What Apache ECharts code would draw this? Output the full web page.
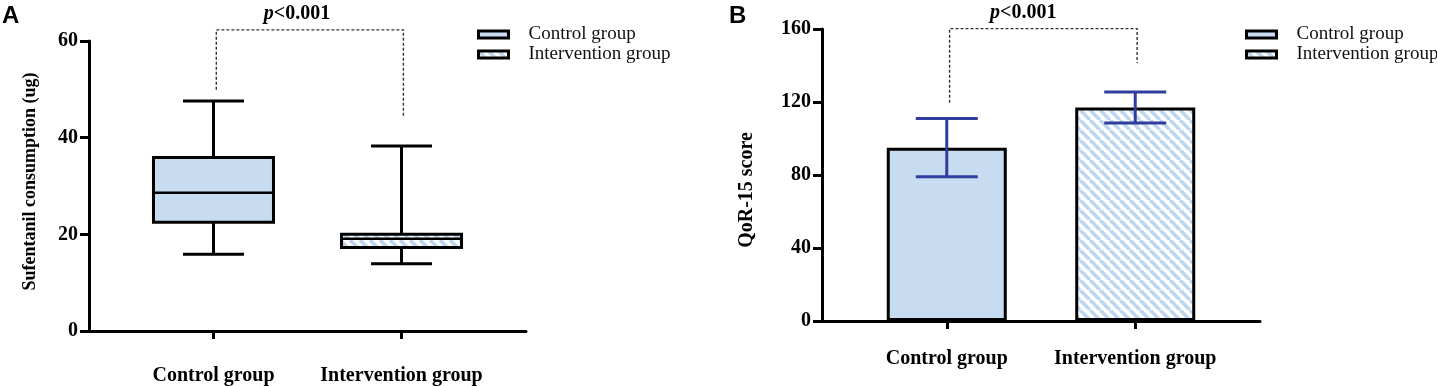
<!DOCTYPE html>
<html>
<head>
<meta charset="utf-8">
<script src="https://cdn.jsdelivr.net/npm/echarts@6/dist/echarts.min.js"></script>
<style>
  html, body { margin: 0; padding: 0; background: #fff; }
  #chart { width: 1437px; height: 386px; }
</style>
</head>
<body>
<div id="chart"></div>
<script>
// ---------- DATA ----------
const categories = ['Control group', 'Intervention group'];
// Panel A: boxplot [min, Q1, median, Q3, max]
const controlBox = [15.9, 22.5, 28.6, 35.9, 47.6];
const interventionBox = [13.9, 17.3, 19.1, 20.0, 38.3];
const sufTicks = [0, 20, 40, 60];
// Panel B: mean with error bar
const qorMeans = [95, 117];
const qorLow = [79, 108.5];
const qorHigh = [111, 125.5];
const qorTicks = [0, 40, 80, 120, 160];
// Significance brackets: [top value, left end value, right end value]
const bracketA = [62.3, 49.9, 44.3];
const bracketB = [160.2, 119.6, 141.4];
const pText = ['p', '<0.001'];

// ---------- STYLE ----------
const SERIF = '"Liberation Serif", "Times New Roman", serif';
const SANS = '"Liberation Sans", Arial, sans-serif';
const LIGHT = '#c8dcf1';

function makeHatch() {
  const s = 10;
  const c = document.createElement('canvas');
  c.width = s; c.height = s;
  const g = c.getContext('2d');
  g.fillStyle = '#ffffff';
  g.fillRect(0, 0, s, s);
  g.strokeStyle = '#bcd6f0';
  g.lineWidth = 3.6;
  for (const o of [-s, 0, s]) {
    g.beginPath();
    g.moveTo(o, 0);
    g.lineTo(o + s, s);
    g.stroke();
  }
  return c;
}
const HATCH = { image: makeHatch(), repeat: 'repeat' };
const fills = [LIGHT, HATCH];

const chart = echarts.init(document.getElementById('chart'), null, { renderer: 'canvas' });

function yAxisCfg(gridIndex, ticks, name, nameGap, nameSize, namePad) {
  return {
    gridIndex, type: 'value',
    min: ticks[0], max: ticks[ticks.length - 1], interval: ticks[1] - ticks[0],
    axisLine: { show: true, onZero: false, lineStyle: { color: '#000', width: 3 } },
    axisTick: { show: true, length: 9, lineStyle: { color: '#000', width: 3 } },
    splitLine: { show: false },
    axisLabel: { fontFamily: SERIF, fontWeight: 'bold', fontSize: 20, color: '#000', margin: 11 },
    name, nameLocation: 'middle', nameGap,
    nameTextStyle: { fontFamily: SERIF, fontWeight: 'bold', fontSize: nameSize, color: '#000', padding: namePad }
  };
}
function xAxisCfg(gridIndex, margin) {
  return {
    gridIndex, type: 'value', min: -0.662, max: 1.662,
    axisLine: { show: true, onZero: false, lineStyle: { color: '#000', width: 3 } },
    axisTick: { show: true, customValues: [0, 1], length: 8, lineStyle: { color: '#000', width: 3 } },
    splitLine: { show: false },
    axisLabel: {
      customValues: [0, 1],
      formatter: v => categories[Math.round(v)],
      fontFamily: SERIF, fontWeight: 'bold', fontSize: 20, color: '#000', margin
    }
  };
}

function boxRender(params, api) {
  const x = api.value(0);
  const c = v => api.coord([x, v]);
  const cx = c(api.value(1))[0];
  const yMin = c(api.value(1))[1], yQ1 = c(api.value(2))[1], yMed = c(api.value(3))[1],
        yQ3 = c(api.value(4))[1], yMax = c(api.value(5))[1];
  const hw = 60, cw = 30.5;
  const st = { stroke: '#000', lineWidth: 3 };
  return {
    type: 'group',
    children: [
      { type: 'line', shape: { x1: cx, y1: yQ3, x2: cx, y2: yMax }, style: st },
      { type: 'line', shape: { x1: cx, y1: yQ1, x2: cx, y2: yMin }, style: st },
      { type: 'line', shape: { x1: cx - cw, y1: yMax, x2: cx + cw, y2: yMax }, style: st },
      { type: 'line', shape: { x1: cx - cw, y1: yMin, x2: cx + cw, y2: yMin }, style: st },
      { type: 'rect', shape: { x: cx - hw, y: yQ3, width: 2 * hw, height: yQ1 - yQ3 },
        style: { fill: fills[x], stroke: '#000', lineWidth: 3 } },
      { type: 'line', shape: { x1: cx - hw, y1: yMed, x2: cx + hw, y2: yMed }, style: { stroke: '#000', lineWidth: 2.5 } }
    ]
  };
}

function errRender(params, api) {
  const x = api.value(0);
  const lo = api.coord([x, api.value(1)]);
  const hi = api.coord([x, api.value(2)]);
  const cw = 31;
  const st = { stroke: '#2f3e9e', lineWidth: 3 };
  return {
    type: 'group',
    children: [
      { type: 'line', shape: { x1: lo[0], y1: lo[1], x2: hi[0], y2: hi[1] }, style: st },
      { type: 'line', shape: { x1: lo[0] - cw, y1: lo[1], x2: lo[0] + cw, y2: lo[1] }, style: st },
      { type: 'line', shape: { x1: hi[0] - cw, y1: hi[1], x2: hi[0] + cw, y2: hi[1] }, style: st }
    ]
  };
}

function bracketRender(params, api) {
  const top = api.value(0), le = api.value(1), re = api.value(2), tx = api.value(3);
  const pL = api.coord([0.015, le]);
  const pLT = api.coord([0.015, top]);
  const pRT = api.coord([1.01, top]);
  const pR = api.coord([1.01, re]);
  const pt = api.coord([tx, top]);
  return {
    type: 'group',
    children: [
      { type: 'polyline', shape: { points: [pL, pLT, pRT, pR] },
        style: { stroke: '#333', lineWidth: 1.4, lineDash: [3, 2], fill: null } },
      { type: 'text', x: pt[0], y: pt[1] - 16,
        style: {
          text: '{i|' + pText[0] + '}{b|' + pText[1] + '}',
          align: 'center', verticalAlign: 'middle',
          rich: {
            i: { fontFamily: SERIF, fontStyle: 'italic', fontWeight: 'bold', fontSize: 20, fill: '#000' },
            b: { fontFamily: SERIF, fontWeight: 'bold', fontSize: 20, fill: '#000' }
          }
        } }
    ]
  };
}

const legendData = [
  { name: categories[0], icon: 'rect', itemStyle: { color: LIGHT, borderColor: '#000', borderWidth: 3 } },
  { name: categories[1], icon: 'rect', itemStyle: { color: HATCH, borderColor: '#000', borderWidth: 3 } }
];
function legendCfg(left) {
  return {
    left, top: 25, padding: 0, orient: 'vertical', data: legendData, selectedMode: false,
    itemWidth: 30, itemHeight: 7, itemGap: 1,
    textStyle: { fontFamily: SERIF, fontSize: 19, color: '#111', lineHeight: 19, padding: [0, 0, 0, 15] }
  };
}

const option = {
  animation: false,
  backgroundColor: '#fff',
  title: [
    { text: 'A', left: 2, top: 4, padding: 0, textStyle: { fontFamily: SANS, fontWeight: 'bold', fontSize: 24, color: '#000' } },
    { text: 'B', left: 729, top: 4, padding: 0, textStyle: { fontFamily: SANS, fontWeight: 'bold', fontSize: 24, color: '#000' } }
  ],
  legend: [legendCfg(477), legendCfg(1245)],
  grid: [
    { left: 89, top: 41, width: 437, height: 291 },
    { left: 822, top: 29, width: 438, height: 292 }
  ],
  xAxis: [xAxisCfg(0, 35), xAxisCfg(1, 28)],
  yAxis: [
    yAxisCfg(0, sufTicks, 'Sufentanil consumption (ug)', 50, 18, [0, 0, 0, 9]),
    yAxisCfg(1, qorTicks, 'QoR-15 score', 65, 20, [0, 30, 0, 0])
  ],
  series: [
    { type: 'custom', name: categories[0], xAxisIndex: 0, yAxisIndex: 0,
      renderItem: boxRender, encode: { x: 0, y: [1, 2, 3, 4, 5] },
      itemStyle: { color: LIGHT },
      data: [[0, ...controlBox]] },
    { type: 'custom', name: categories[1], xAxisIndex: 0, yAxisIndex: 0,
      renderItem: boxRender, encode: { x: 0, y: [1, 2, 3, 4, 5] },
      itemStyle: { color: HATCH },
      data: [[1, ...interventionBox]] },
    { type: 'bar', name: categories[0], xAxisIndex: 1, yAxisIndex: 1,
      barWidth: 120, barGap: '-100%',
      itemStyle: { color: LIGHT, borderColor: '#000', borderWidth: 3 },
      data: [[0, qorMeans[0]]] },
    { type: 'bar', name: categories[1], xAxisIndex: 1, yAxisIndex: 1,
      barWidth: 120, barGap: '-100%',
      itemStyle: { color: HATCH, borderColor: '#000', borderWidth: 3 },
      data: [[1, qorMeans[1]]] },
    { type: 'custom', name: 'error', xAxisIndex: 1, yAxisIndex: 1, z: 5,
      renderItem: errRender, encode: { x: 0, y: [1, 2] },
      data: qorMeans.map((m, i) => [i, qorLow[i], qorHigh[i]]) },
    { type: 'custom', name: 'bracketA', xAxisIndex: 0, yAxisIndex: 0, clip: false,
      renderItem: bracketRender, encode: { y: [0, 1, 2] },
      data: [[...bracketA, 0.444]] },
    { type: 'custom', name: 'bracketB', xAxisIndex: 1, yAxisIndex: 1, clip: false,
      renderItem: bracketRender, encode: { y: [0, 1, 2] },
      data: [[...bracketB, 0.406]] }
  ]
};
chart.setOption(option);
</script>
</body>
</html>
